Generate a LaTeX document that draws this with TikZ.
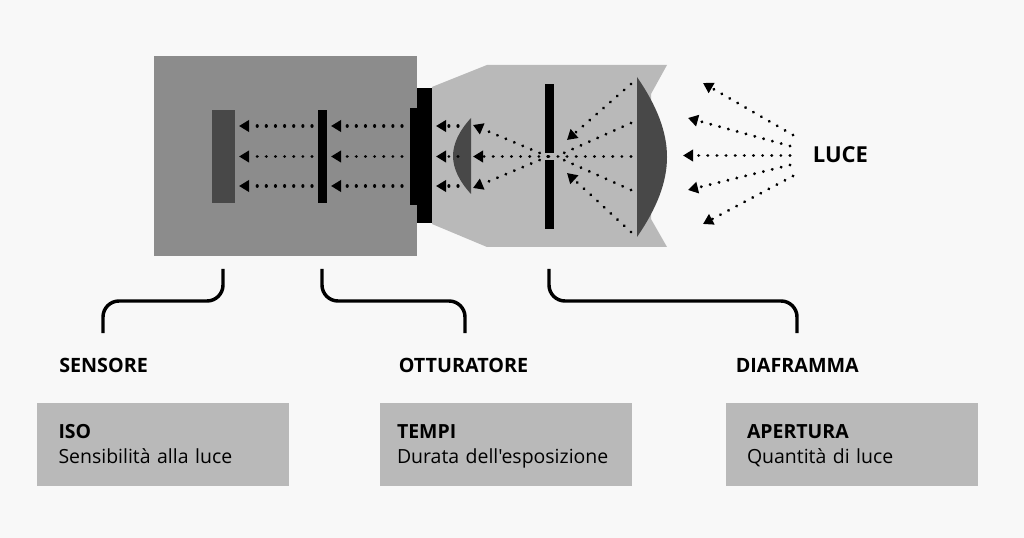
\documentclass[tikz,border=0pt]{standalone}
\usepackage{fontspec}
\setmainfont[Ligatures=TeXOff]{Open Sans}
\usetikzlibrary{arrows.meta}
\definecolor{paper}{HTML}{F8F8F8}
\definecolor{bodygray}{HTML}{8C8C8C}
\definecolor{barrelgray}{HTML}{B9B9B9}
\definecolor{glassgray}{HTML}{484848}
\newcommand{\boxstrut}{\rule[-4.875pt]{0pt}{18.75pt}}
\begin{document}
\begin{tikzpicture}[
        x=0.75pt, y=-0.75pt,
        part/.style={rectangle, inner sep=0pt, outer sep=0pt},
        rayplain/.style={line width=2.4pt, line cap=round, dash pattern=on 0.01pt off 6.84pt},
        ray/.style={rayplain, -{Triangle[length=7.5pt, width=8.5pt]}},
        bracket/.style={line width=2.6pt, rounded corners=12pt},
        partname/.style={font=\fontsize{14.8}{17}\selectfont\bfseries,
            anchor=base west, inner sep=0pt},
        infobox/.style={rectangle, fill=barrelgray, minimum height=62.25pt,
            inner ysep=0pt, inner xsep=#1, text width=189pt-2*#1, align=left,
            font=\fontsize{14.6}{18.75}\selectfont}
      ]
      \fill[paper] (0,0) rectangle (1024,538);
      \useasboundingbox (0,0) rectangle (1024,538);
      \fill[barrelgray] (432,87) -- (487,65) -- (667,65) -- (651,94) -- (651,219)
        -- (667,247) -- (487,247) -- (432,224) -- cycle;
      \node[part, fill=bodygray, minimum width=197.25pt, minimum height=150pt]
      (body) at (285.5,156) {};
      \node[part, fill=glassgray, minimum width=17.25pt, minimum height=69.75pt]
      (sensor) at (223.5,156.5) {};
      \node[part, fill=black, minimum width=7.1pt, minimum height=69.75pt]
      (shutter) at (322.25,156.5) {};
      \node[part, fill=black, minimum width=11.6pt, minimum height=100.9pt]
      (mount) at (424.75,155.75) {};
      \node[part, fill=black, minimum width=5.25pt, minimum height=73.1pt]
      (mountback) at (413.5,156.25) {};
      \node[part, fill=black, minimum width=6.75pt, minimum height=52.1pt]
      (irisup) at (549,118.25) {};
      \node[part, fill=black, minimum width=6.75pt, minimum height=51.75pt]
      (irisdown) at (549,194.5) {};
      \fill[glassgray] (471,118) .. controls (459,131) and (453,144) .. (453,156)
        .. controls (453,168) and (459,181) .. (471,194) -- cycle;
      \fill[glassgray] (637,77) .. controls (657,106) and (667,132) .. (667,157)
        .. controls (667,182) and (657,208) .. (637,237) -- cycle;

      \coordinate (mounta) at (402,126);
      \coordinate (mountb) at (402,156.5);
      \coordinate (mountc) at (402,186);
      \coordinate (shuta) at (331,126);
      \coordinate (shutb) at (331,156.5);
      \coordinate (shutc) at (331,186);
      \coordinate (backa) at (312,126);
      \coordinate (backb) at (312,156.5);
      \coordinate (backc) at (312,186);
      \coordinate (sensa) at (239,126);
      \coordinate (sensb) at (239,156.5);
      \coordinate (sensc) at (239,186);
      \draw[ray] (mounta) -- (shuta);
      \draw[ray] (mountb) -- (shutb);
      \draw[ray] (mountc) -- (shutc);
      \draw[ray] (backa) -- (sensa);
      \draw[ray] (backb) -- (sensb);
      \draw[ray] (backc) -- (sensc);

      \coordinate (lensa) at (458,126);
      \coordinate (lensb) at (458,156.5);
      \coordinate (lensc) at (458,186);
      \coordinate (exita) at (436,126);
      \coordinate (exitb) at (436,156.5);
      \coordinate (exitc) at (436,186);
      \draw[ray] (lensa) -- (exita);
      \draw[ray] (lensb) -- (exitb);
      \draw[ray] (lensc) -- (exitc);

      \coordinate (focus) at (556,156.5);
      \coordinate (focusback) at (540,156.5);
      \coordinate (rear) at (548,156.5);
      \coordinate (lensta) at (473,125);
      \coordinate (lenstb) at (473,156.5);
      \coordinate (lenstc) at (473,188);
      \draw[ray] (rear) -- (lensta);
      \draw[ray] (rear) -- (lenstb);
      \draw[ray] (rear) -- (lenstc);

      \coordinate (fronta) at (631,84);
      \coordinate (frontb) at (631,123);
      \coordinate (frontc) at (631,156.5);
      \coordinate (frontd) at (631,190);
      \coordinate (fronte) at (631,232);
      \coordinate (hita) at (567,140);
      \coordinate (hite) at (567,173);
      \draw[ray] (fronta) -- (hita);
      \draw[rayplain] (frontb) -- (focus);
      \draw[rayplain] (frontc) -- (focusback);
      \draw[rayplain] (frontd) -- (focus);
      \draw[ray] (fronte) -- (hite);

      \node[font=\fontsize{16.5}{20}\selectfont\bfseries, anchor=base west, inner sep=0pt]
      (luce) at (812.5,163) {LUCE};
      \coordinate (lucea) at (793,135);
      \coordinate (luceb) at (790,146);
      \coordinate (lucec) at (790,155.5);
      \coordinate (luced) at (790,165);
      \coordinate (lucee) at (793,176);
      \coordinate (outa) at (703,83);
      \coordinate (outb) at (688,118);
      \coordinate (outc) at (683,155.5);
      \coordinate (outd) at (688,190);
      \coordinate (oute) at (703,224);
      \draw[ray] (lucea) -- (outa);
      \draw[ray] (luceb) -- (outb);
      \draw[ray] (lucec) -- (outc);
      \draw[ray] (luced) -- (outd);
      \draw[ray] (lucee) -- (oute);

      \coordinate (sensortick) at (223,269);
      \coordinate (shuttertick) at (322,269);
      \coordinate (iristick) at (549,269);
      \coordinate (sensorend) at (103,333);
      \coordinate (shutterend) at (465,333);
      \coordinate (irisend) at (797,333);
      \draw[bracket] (sensortick) |- (163,301) -| (sensorend);
      \draw[bracket] (shuttertick) |- (393,301) -| (shutterend);
      \draw[bracket] (iristick) |- (673,301) -| (irisend);

      \node[partname] (sensorname) at (59,372) {SENSORE};
      \node[partname] (shuttername) at (398.5,372) {OTTURATORE};
      \node[partname] (irisname) at (735.5,372) {DIAFRAMMA};
      \node[infobox=16.5pt] (iso) at (162.5,444.5)
      {\boxstrut\textbf{ISO}\\\boxstrut Sensibilità alla luce};
      \node[infobox=12.75pt] (tempi) at (506,444.5)
      {\boxstrut\textbf{TEMPI}\\\boxstrut Durata dell'esposizione};
      \node[infobox=15.75pt] (apertura) at (852,444.5)
      {\boxstrut\textbf{APERTURA}\\\boxstrut Quantità di luce};
    \end{tikzpicture}
\end{document}
